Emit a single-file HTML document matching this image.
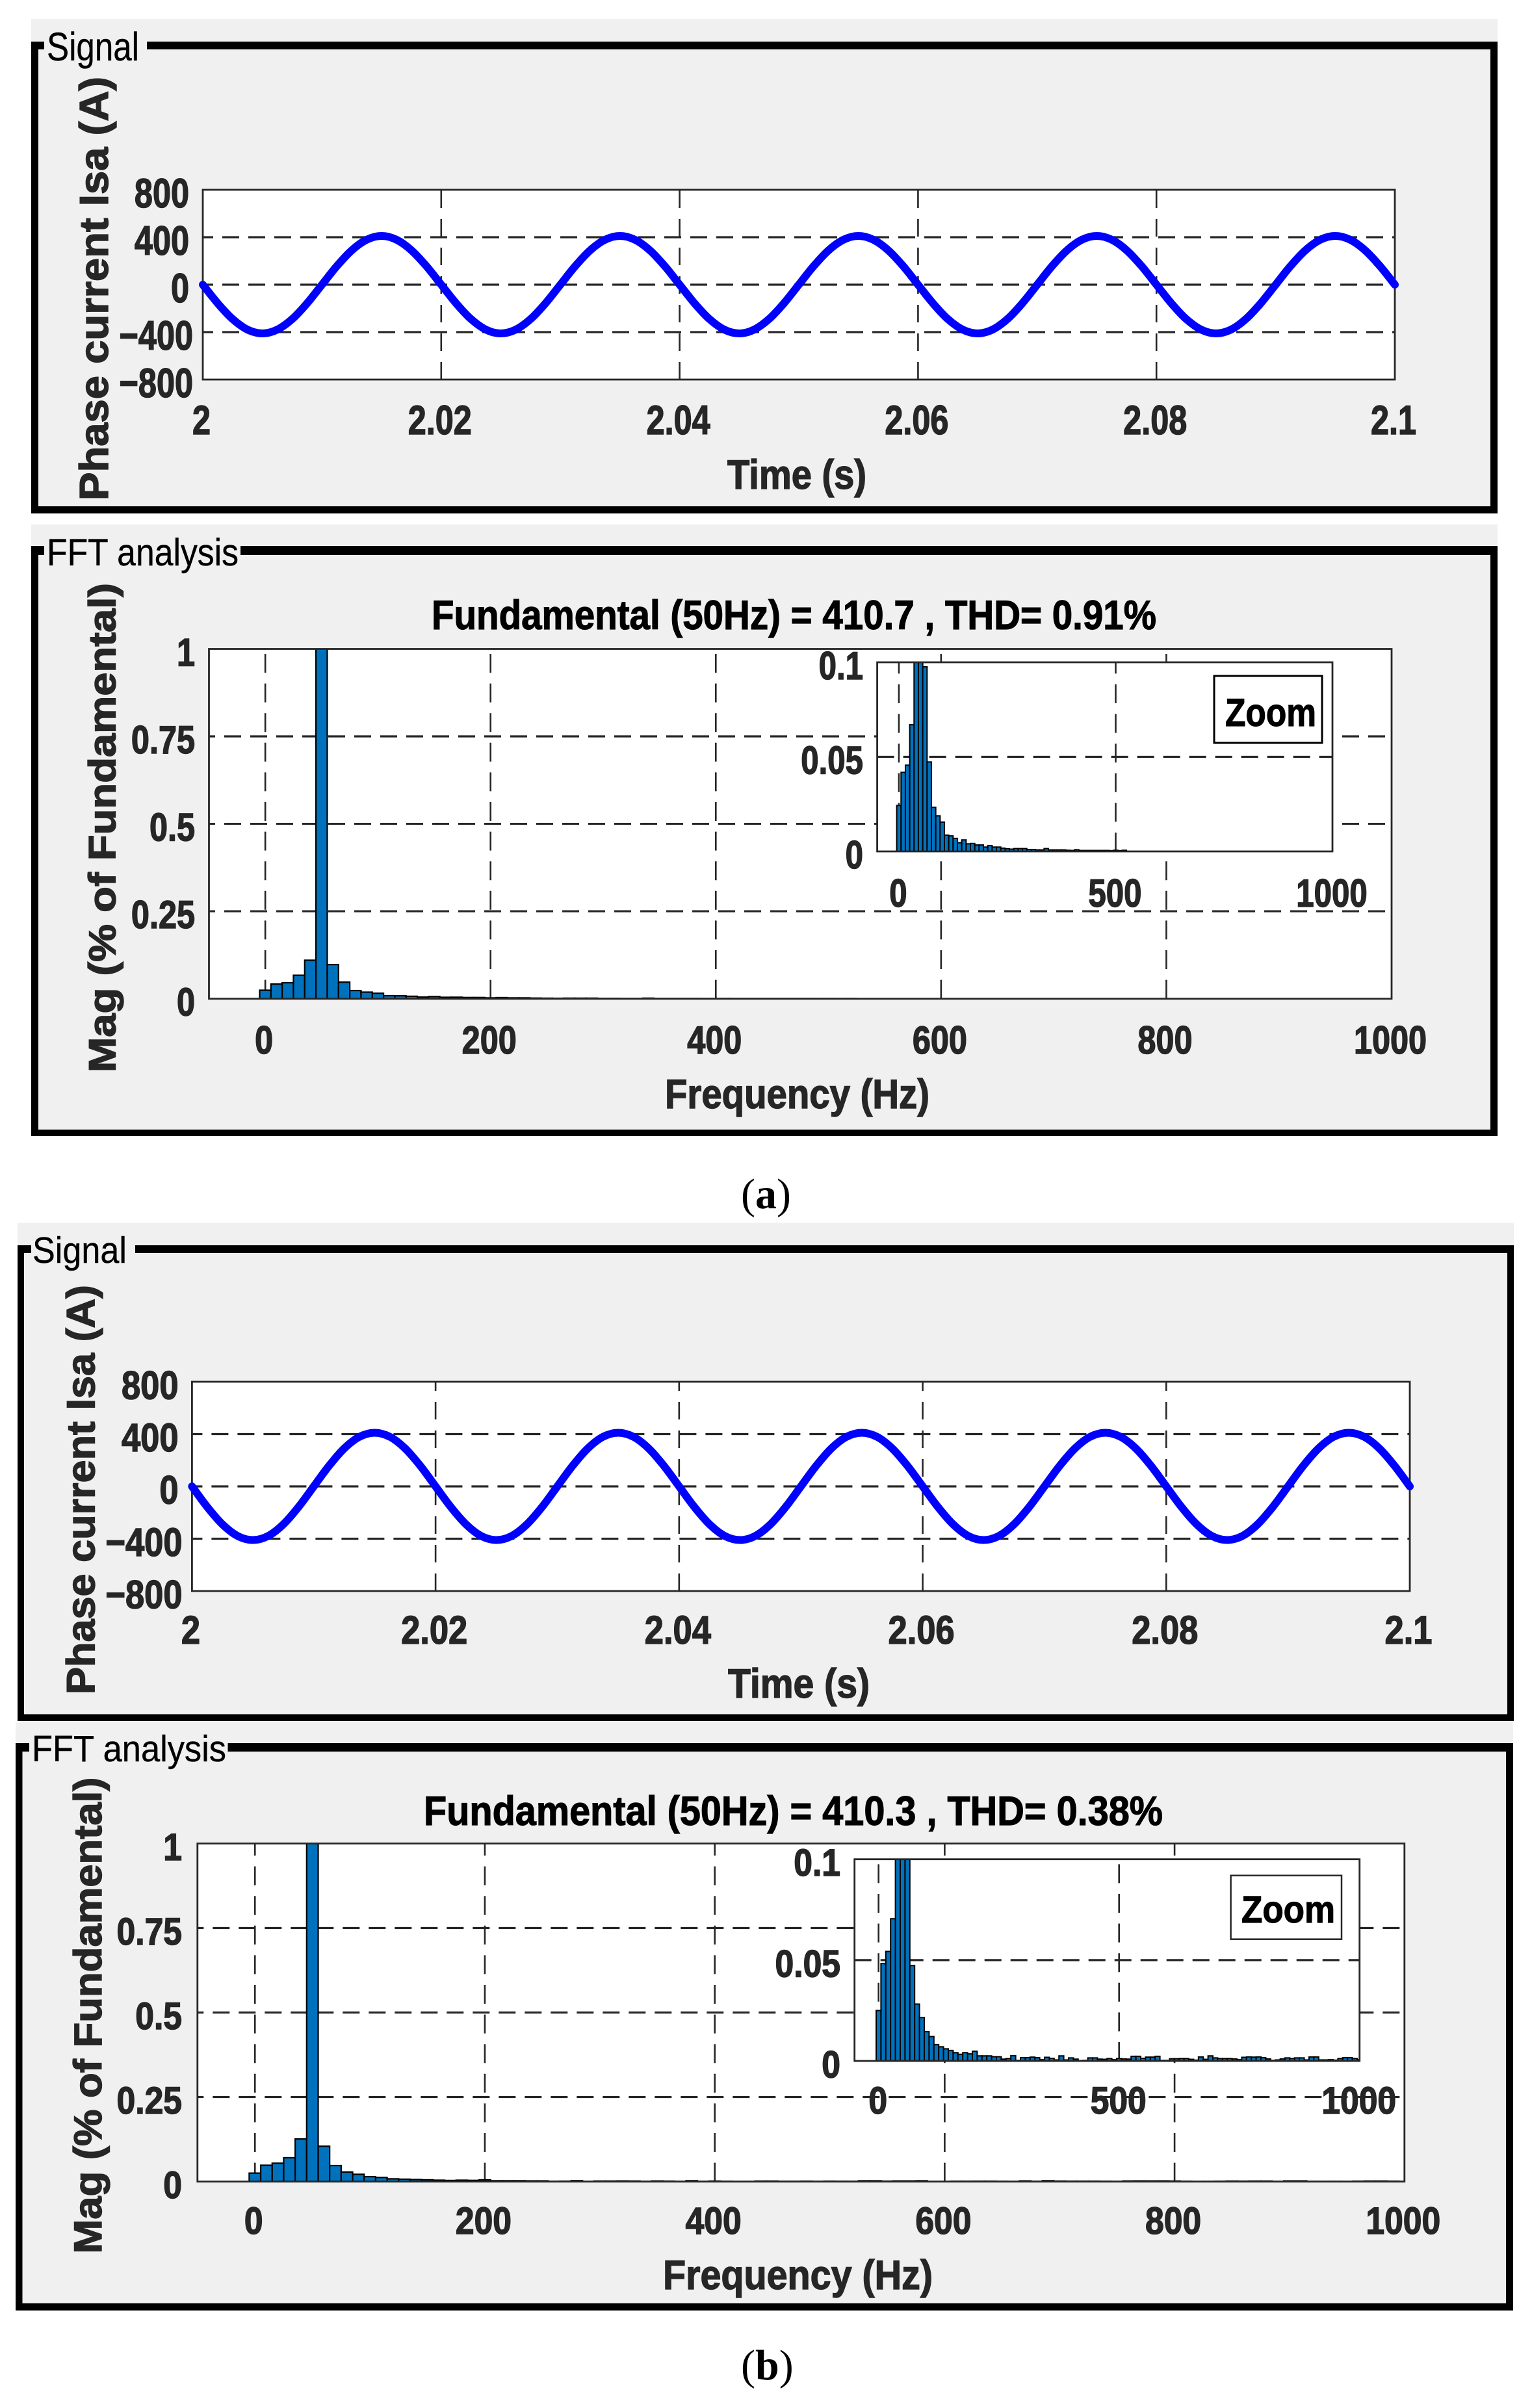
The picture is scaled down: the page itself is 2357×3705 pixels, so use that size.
<!DOCTYPE html>
<html lang="en">
<head>
<meta charset="utf-8">
<title>Phase current and FFT analysis</title>
<style>
html,body{margin:0;padding:0;background:#fff;}
svg{display:block;}
text{font-family:"Liberation Sans",Arial,sans-serif;}
.bold{font-weight:bold;fill:#262626;stroke:#262626;stroke-width:1.4;}
.blk{font-weight:bold;fill:#000;stroke:#000;stroke-width:1.2;}
.reg{fill:#000;stroke:#000;stroke-width:.4;}
.cap{font-family:"Liberation Serif",serif;fill:#000;}
</style>
</head>
<body>
<svg id="figure" width="2357" height="3705" viewBox="0 0 2357 3705">
  <rect x="0" y="0" width="2357" height="3705" fill="#fff"/>

  <!-- Panel a, signal -->
  <g>
    <rect x="48" y="29" width="2256" height="761" fill="#f0f0f0"/>
    <rect x="48" y="64" width="20" height="12" fill="#000"/>
    <rect x="226" y="64" width="2078" height="12" fill="#000"/>
    <rect x="48" y="64" width="11" height="726" fill="#000"/>
    <rect x="2293" y="64" width="11" height="726" fill="#000"/>
    <rect x="48" y="779" width="2256" height="11" fill="#000"/>
    <text class="reg" x="72" y="93" font-size="61" textLength="142" lengthAdjust="spacingAndGlyphs">Signal</text>
    <text class="bold" x="1119" y="752" font-size="63" textLength="214" lengthAdjust="spacingAndGlyphs">Time (s)</text>
    <text class="bold" transform="translate(166,770) rotate(-90)" font-size="62" textLength="652" lengthAdjust="spacingAndGlyphs">Phase current Isa (A)</text>
    <g id="plot-signal-a"></g>
  </g>

  <!-- Panel a, FFT -->
  <g>
    <rect x="48" y="807" width="2256" height="941" fill="#f0f0f0"/>
    <rect x="48" y="840" width="20" height="14" fill="#000"/>
    <rect x="370" y="840" width="1934" height="14" fill="#000"/>
    <rect x="48" y="840" width="11" height="908" fill="#000"/>
    <rect x="2293" y="840" width="11" height="908" fill="#000"/>
    <rect x="48" y="1738" width="2256" height="10" fill="#000"/>
    <text class="reg" x="72" y="870" font-size="58" textLength="295" lengthAdjust="spacingAndGlyphs">FFT analysis</text>
    <text class="blk" x="664" y="968" font-size="63" textLength="1115" lengthAdjust="spacingAndGlyphs">Fundamental (50Hz) = 410.7 , THD= 0.91%</text>
    <text class="bold" x="1023" y="1705" font-size="63" textLength="407" lengthAdjust="spacingAndGlyphs">Frequency (Hz)</text>
    <text class="bold" transform="translate(177.5,1650) rotate(-90)" font-size="58" textLength="753" lengthAdjust="spacingAndGlyphs">Mag (% of Fundamental)</text>
    <g id="plot-fft-a"></g>
    <g id="inset-fft-a"></g>
    <rect x="1868" y="1040" width="166" height="103" fill="#fff" stroke="#000" stroke-width="3"/>
    <text class="blk" x="1885" y="1117" font-size="60" textLength="140" lengthAdjust="spacingAndGlyphs">Zoom</text>
  </g>

  <text class="cap" x="1140" y="1859" font-size="66">(<tspan font-weight="bold">a</tspan>)</text>

  <!-- Panel b, signal -->
  <g>
    <rect x="27" y="1881.5" width="2302" height="766.5" fill="#f0f0f0"/>
    <rect x="27" y="1916" width="21" height="12" fill="#000"/>
    <rect x="208" y="1916" width="2121" height="12" fill="#000"/>
    <rect x="27" y="1916" width="10" height="732" fill="#000"/>
    <rect x="2319" y="1916" width="10" height="732" fill="#000"/>
    <rect x="27" y="2637.5" width="2302" height="10.5" fill="#000"/>
    <text class="reg" x="50" y="1943" font-size="57" textLength="145" lengthAdjust="spacingAndGlyphs">Signal</text>
    <text class="bold" x="1120" y="2612" font-size="63" textLength="218" lengthAdjust="spacingAndGlyphs">Time (s)</text>
    <text class="bold" transform="translate(145.4,2607) rotate(-90)" font-size="61" textLength="630" lengthAdjust="spacingAndGlyphs">Phase current Isa (A)</text>
    <g id="plot-signal-b"></g>
  </g>

  <!-- Panel b, FFT -->
  <g>
    <rect x="24" y="2650" width="2304" height="905" fill="#f0f0f0"/>
    <rect x="24" y="2682" width="21" height="13" fill="#000"/>
    <rect x="350.5" y="2682" width="1977.5" height="13" fill="#000"/>
    <rect x="24" y="2682" width="10.5" height="873" fill="#000"/>
    <rect x="2317" y="2682" width="11" height="873" fill="#000"/>
    <rect x="24" y="3544" width="2304" height="11" fill="#000"/>
    <text class="reg" x="49" y="2710" font-size="57" textLength="299" lengthAdjust="spacingAndGlyphs">FFT analysis</text>
    <text class="blk" x="652" y="2808" font-size="63" textLength="1137" lengthAdjust="spacingAndGlyphs">Fundamental (50Hz) = 410.3 , THD= 0.38%</text>
    <text class="bold" x="1020" y="3522" font-size="63" textLength="415" lengthAdjust="spacingAndGlyphs">Frequency (Hz)</text>
    <text class="bold" transform="translate(156,3467.6) rotate(-90)" font-size="60" textLength="733" lengthAdjust="spacingAndGlyphs">Mag (% of Fundamental)</text>
    <g id="plot-fft-b"></g>
    <g id="inset-fft-b"></g>
    <rect x="1893.6" y="2885.7" width="170.4" height="98" fill="#fff" stroke="#262626" stroke-width="2.5"/>
    <text class="blk" x="1910" y="2958" font-size="58" textLength="144" lengthAdjust="spacingAndGlyphs">Zoom</text>
  </g>

  <text class="cap" x="1140" y="3661" font-size="66">(<tspan font-weight="bold">b</tspan>)</text>
</svg>

<script>
/* ---------- chart data ---------- */
const timeTicks = [2, 2.02, 2.04, 2.06, 2.08, 2.1];
const timeTickLabels = ['2', '2.02', '2.04', '2.06', '2.08', '2.1'];
const currentTicks = [800, 400, 0, -400, -800];
const currentTickLabels = ['800', '400', '0', '\u2212400', '\u2212800'];

const sampleStartS = 2;
const sampleStepS = 0.00125;
const currentA = [
  0,-157,-290,-379,-411,-379,-290,-157,0,157,290,379,411,379,290,157,
  0,-157,-290,-379,-411,-379,-290,-157,0,157,290,379,411,379,290,157,
  0,-157,-290,-379,-411,-379,-290,-157,0,157,290,379,411,379,290,157,
  0,-157,-290,-379,-411,-379,-290,-157,0,157,290,379,411,379,290,157,
  0,-157,-290,-379,-411,-379,-290,-157,0,157,290,379,411,379,290,157,
  0
];
const currentB = [
  0,-157,-290,-379,-410,-379,-290,-157,0,157,290,379,410,379,290,157,
  0,-157,-290,-379,-410,-379,-290,-157,0,157,290,379,410,379,290,157,
  0,-157,-290,-379,-410,-379,-290,-157,0,157,290,379,410,379,290,157,
  0,-157,-290,-379,-410,-379,-290,-157,0,157,290,379,410,379,290,157,
  0,-157,-290,-379,-410,-379,-290,-157,0,157,290,379,410,379,290,157,
  0
];

const freqTicks = [0, 200, 400, 600, 800, 1000];
const freqTickLabels = ['0', '200', '400', '600', '800', '1000'];
const magTicks = [1, 0.75, 0.5, 0.25, 0];
const magTickLabels = ['1', '0.75', '0.5', '0.25', '0'];
const insetFreqTicks = [0, 500, 1000];
const insetFreqTickLabels = ['0', '500', '1000'];
const insetMagTicks = [0.1, 0.05, 0];
const insetMagTickLabels = ['0.1', '0.05', '0'];

const binWidthHz = 10;
const magnitudeA = [
  .0243,.0418,.0456,.067,.11,100,.0976,.0473,.0233,.0188,
  .0155,.0086,.0082,.0069,.0046,.0061,.004,.0042,.0034,.0034,
  .0023,.0031,.0023,.0023,.0017,.0014,.0012,.0015,.0015,.0015,
  .001,.001,.0008,.0008,.0015,.0008,.0008,.0008,.0008,.0006,
  .0005,.0009,.0005,.0005,.0005,.0005,.0005,.0005,.0005,.0004,
  .0006,.0004,.0006,0,0,0,0,0,0,0,
  0,0,0,0,0,0,0,0,0,0,
  0,0,0,0,0,0,0,0,0,0,
  0,0,0,0,0,0,0,0,0,0,
  0,0,0,0,0,0,0,0,0,0,
  0
];
const magnitudeB = [
  .025,.0483,.0543,.0705,.126,100,.1045,.0473,.0282,.0215,
  .0145,.0121,.0081,.007,.006,.0052,.0041,.0033,.0041,.0035,
  .0048,.0025,.0025,.0025,.0021,.0021,.0009,.0012,.0026,.0003,
  .0016,.0016,.0019,.0016,.0006,.0018,.0013,.0005,.0025,.0005,
  .0015,.0009,.0002,.0003,.0015,.0015,.0009,.0008,.0012,.0006,
  .0012,.001,.0009,.0023,.0023,.0013,.0019,.0019,.0023,.0003,
  .0003,.0011,.0011,.0012,.0012,.0008,.0004,.002,.0008,.0025,
  .0015,.0012,.0012,.0012,.001,.0006,.0018,.002,.0019,.002,
  .0016,.001,.0003,.0005,.001,.0015,.0012,.0015,.0015,.0005,
  .002,.002,.0005,.0005,.0006,.0004,.0012,.0016,.0016,.0012,
  .0006
];

/* ---------- helpers ---------- */
const figure = document.getElementById('figure');
const NS = figure.namespaceURI;
const INK = '#262626';

function make(tag, parent, attrs) {
  const el = document.createElementNS(NS, tag);
  for (const k in attrs) el.setAttribute(k, attrs[k]);
  parent.appendChild(el);
  return el;
}
function scale(d0, d1, r0, r1) {
  return function (v) { return r0 + (v - d0) / (d1 - d0) * (r1 - r0); };
}
function labelAttrs(x, y, anchor, size, sx) {
  return {
    transform: 'translate(' + x + ',' + y + ') scale(' + sx + ',1)',
    'text-anchor': anchor,
    'font-size': size,
    'font-weight': 'bold',
    fill: INK,
    stroke: INK,
    'stroke-width': 1.5
  };
}

/* ---------- axes ---------- */
function drawPlotBackground(g, box) {
  const bg = make('rect', g, { x: box.left, y: box.top, width: box.right - box.left, height: box.bottom - box.top, fill: '#fff' });
  
  
}
function drawGrid(g, box, xs, ys, xTicks, yTicks) {
  xTicks.forEach(function (t) {
    const x = xs(t);
    if (Math.abs(x - box.left) < 1 || Math.abs(x - box.right) < 1) return;
    const line = make('line', g, { x1: x, y1: box.bottom, x2: x, y2: box.top, stroke: INK, 'stroke-width': 2.6, 'stroke-dasharray': box.vDash });
    
    
  });
  yTicks.forEach(function (t) {
    const y = ys(t);
    if (Math.abs(y - box.top) < 1 || Math.abs(y - box.bottom) < 1) return;
    const line = make('line', g, { x1: box.left, y1: y, x2: box.right, y2: y, stroke: INK, 'stroke-width': 3.2, 'stroke-dasharray': '26 14', 'stroke-dashoffset': box.hOffset });
    
    
  });
}
function drawFrame(g, box) {
  const frame = make('rect', g, { x: box.left, y: box.top, width: box.right - box.left, height: box.bottom - box.top, fill: 'none', stroke: INK, 'stroke-width': 2.8 });
  
  
}
function drawTickLabels(g, box, xs, ys, xTicks, xLabels, yTicks, yLabels) {
  xTicks.forEach(function (t, i) {
    const text = make('text', g, labelAttrs(xs(t) + box.xLabelShift, box.xLabelBase, 'middle', box.fontSize, box.sx));
    text.textContent = xLabels[i];
    
    
  });
  yTicks.forEach(function (t, i) {
    const right = box.yLabelRight + (t < 0 ? 6 : 0);
    const text = make('text', g, labelAttrs(right, ys(t) + box.yLabelDrop, 'end', box.fontSize, box.sx));
    text.textContent = yLabels[i];
    
    
  });
}

/* ---------- marks ---------- */
function drawCurve(g, xs, ys, values) {
  const pts = values.map(function (v, i) { return [xs(sampleStartS + i * sampleStepS), ys(v)]; });
  let d = 'M' + pts[0][0] + ' ' + pts[0][1];
  for (let i = 0; i < pts.length - 1; i++) {
    const p0 = pts[Math.max(i - 1, 0)], p1 = pts[i], p2 = pts[i + 1], p3 = pts[Math.min(i + 2, pts.length - 1)];
    d += 'C' + (p1[0] + (p2[0] - p0[0]) / 6) + ' ' + (p1[1] + (p2[1] - p0[1]) / 6) + ' ' +
         (p2[0] - (p3[0] - p1[0]) / 6) + ' ' + (p2[1] - (p3[1] - p1[1]) / 6) + ' ' + p2[0] + ' ' + p2[1];
  }
  const path = make('path', g, { d: d, fill: 'none', stroke: '#0000ff', 'stroke-width': 12, 'stroke-linecap': 'round', 'stroke-linejoin': 'round' });
  
  
}
function drawBars(g, box, xs, ys, values, clipId, strokeWidth) {
  const clip = make('clipPath', g, { id: clipId });
  make('rect', clip, { x: box.left, y: box.top, width: box.right - box.left, height: box.bottom - box.top });
  const bars = make('g', g, { 'clip-path': 'url(#' + clipId + ')' });
  
  
  values.forEach(function (v, i) {
    if (v <= 0) return;
    const f = i * binWidthHz;
    const x0 = xs(f - binWidthHz / 2), x1 = xs(f + binWidthHz / 2);
    const rect = make('rect', bars, { x: x0, y: ys(v), width: x1 - x0, height: ys(0) - ys(v), fill: '#0072bd', stroke: '#000', 'stroke-width': strokeWidth });
    
    
  });
}

/* ---------- plots ---------- */
function signalPlot(id, box, values) {
  const g = document.getElementById(id);
  const xs = scale(2, 2.1, box.left, box.right);
  const ys = scale(-800, 800, box.bottom, box.top);
  drawPlotBackground(g, box);
  drawGrid(g, box, xs, ys, timeTicks, currentTicks);
  drawFrame(g, box);
  drawCurve(g, xs, ys, values);
  drawTickLabels(g, box, xs, ys, timeTicks, timeTickLabels, currentTicks, currentTickLabels);
}
function fftPlot(id, box, values) {
  const g = document.getElementById(id);
  const xs = scale(-50, 1000, box.left, box.right);
  const ys = scale(0, 1, box.bottom, box.top);
  drawPlotBackground(g, box);
  drawGrid(g, box, xs, ys, freqTicks, magTicks);
  drawBars(g, box, xs, ys, values, id + '-clip', 2.2);
  drawFrame(g, box);
  drawTickLabels(g, box, xs, ys, freqTicks, freqTickLabels, magTicks, magTickLabels);
}
function insetPlot(id, box, values) {
  const g = document.getElementById(id);
  const xs = scale(-50, 1000, box.left, box.right);
  const ys = scale(0, 0.1, box.bottom, box.top);
  drawPlotBackground(g, box);
  drawGrid(g, box, xs, ys, insetFreqTicks, insetMagTicks);
  drawBars(g, box, xs, ys, values, id + '-clip', 2);
  drawFrame(g, box);
  drawTickLabels(g, box, xs, ys, insetFreqTicks, insetFreqTickLabels, insetMagTicks, insetMagTickLabels);
}

signalPlot('plot-signal-a', { left: 312, right: 2146, top: 292, bottom: 584, vDash: '27 17', hOffset: 10, fontSize: 63, sx: 0.8, xLabelBase: 668, xLabelShift: -2, yLabelRight: 291, yLabelDrop: 27 }, currentA);
fftPlot('plot-fft-a', { left: 321.5, right: 2141, top: 998.5, bottom: 1536.6, vDash: '29 16.6', hOffset: 16.5, fontSize: 60, sx: 0.84, xLabelBase: 1621, xLabelShift: -2, yLabelRight: 300, yLabelDrop: 26 }, magnitudeA);
insetPlot('inset-fft-a', { left: 1349.6, right: 2050, top: 1019, bottom: 1310, vDash: '29 16.6', hOffset: 0, fontSize: 60, sx: 0.82, xLabelBase: 1395, xLabelShift: -1, yLabelRight: 1328, yLabelDrop: 26 }, magnitudeA);

signalPlot('plot-signal-b', { left: 295.4, right: 2169, top: 2126, bottom: 2448, vDash: '27 17', hOffset: 10, fontSize: 61, sx: 0.86, xLabelBase: 2529, xLabelShift: -2, yLabelRight: 274.5, yLabelDrop: 26.5 }, currentB);
fftPlot('plot-fft-b', { left: 303.8, right: 2160.8, top: 2836.4, bottom: 3356.6, vDash: '29 16.6', hOffset: 16.5, fontSize: 58, sx: 0.89, xLabelBase: 3437, xLabelShift: -2, yLabelRight: 280, yLabelDrop: 25.5 }, magnitudeB);
insetPlot('inset-fft-b', { left: 1314.7, right: 2091.7, top: 2860.7, bottom: 3171, vDash: '29 16.6', hOffset: 0, fontSize: 58, sx: 0.89, xLabelBase: 3252, xLabelShift: -1, yLabelRight: 1293, yLabelDrop: 25.5 }, magnitudeB);
</script>
</body>
</html>
